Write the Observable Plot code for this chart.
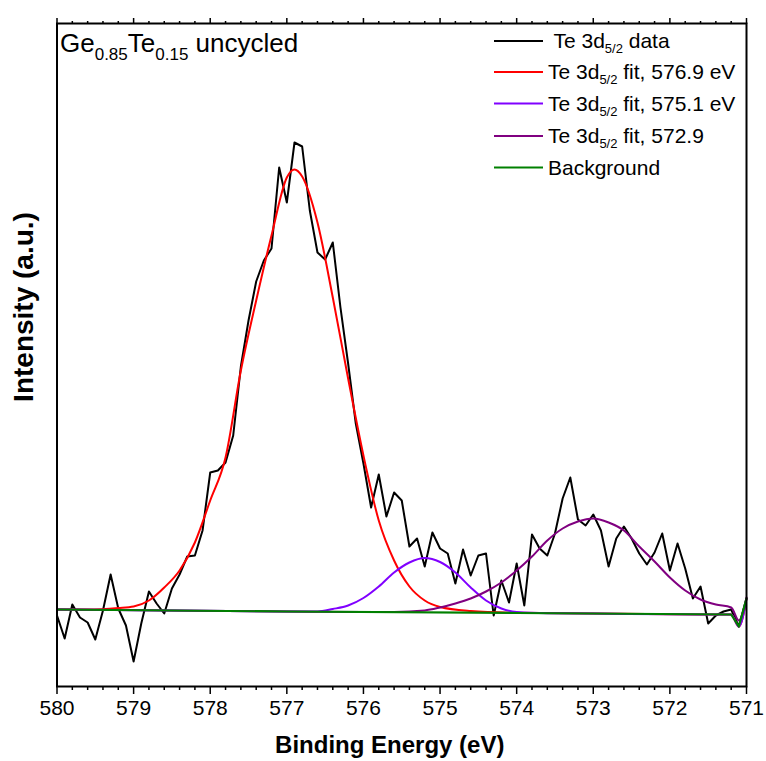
<!DOCTYPE html>
<html><head><meta charset="utf-8">
<script src="https://cdn.jsdelivr.net/npm/d3@7"></script>
<script src="https://cdn.jsdelivr.net/npm/@observablehq/plot@0.6"></script>
<style>body{margin:0;background:#fff}</style>
</head><body><div id="chart"></div>
<script>
// ---- data (binding energy in eV, intensity in arbitrary units) ----
const dataEnergy = [580.0,579.9,579.8,579.7,579.6,579.5,579.4,579.3,579.2,579.1,
  579.0,578.9,578.8,578.7,578.6,578.5,578.4,578.3,578.2,578.1,
  578.0,577.9,577.8,577.7,577.6,577.5,577.4,577.3,577.2,577.1,
  577.0,576.9,576.8,576.7,576.6,576.5,576.4,576.3,576.2,576.1,
  576.0,575.9,575.8,575.7,575.6,575.5,575.4,575.3,575.2,575.1,
  575.0,574.9,574.8,574.7,574.6,574.5,574.4,574.3,574.2,574.1,
  574.0,573.9,573.8,573.7,573.6,573.5,573.4,573.3,573.2,573.1,
  573.0,572.9,572.8,572.7,572.6,572.5,572.4,572.3,572.2,572.1,
  572.0,571.9,571.8,571.7,571.6,571.5,571.4,571.3,571.2,571.1,571.0];
const dataIntensity = [73,50,84,71,66,49,78,114,80,63,
  27,65,97,85,75,100,114,132,133,158,
  216,218,226,253,322,368,407,428,440,521,
  486,546,542,478,436,429,446,381,325,265,
  225,181,214,172,196,188,142,150,122,156,
  140,135,105,139,113,133,135,73,108,86,
  125,83,154,140,133,155,190,211,169,163,
  174,158,122,150,162,150,135,124,136,155,
  118,145,120,90,102,65,73,77,79,62,90];

const fit1Energy = [580.0,579.6,579.2,579.0,578.8,578.6,578.4,578.2,578.0,577.8,577.6,577.4,577.2,577.0,576.9,576.8,576.6,576.4,576.2,576.0,575.8,575.6,575.4,575.2,575.0,574.6,574.0,573.0,572.0,571.2,571.1,571.0];
const fit1Intensity = [79,79,80.5,82,88,101,118,146,188,231,318,388,453,511,519,512,466,391,310,233,168,128,102,88,81.5,77.5,75.7,75,74.2,74,62,90];

const fit2Energy = [580.0,577.0,576.6,576.4,576.2,576.0,575.8,575.6,575.4,575.2,575.0,574.8,574.6,574.4,574.2,574.0,573.6,573.0,572.0,571.2,571.1,571.0];
const fit2Intensity = [79,77,77,79.5,83,90.5,102,116,126,130.5,126.5,116,101,88,80,76.5,75.3,75,74.2,74,62,90];

const fit3Energy = [580.0,577.0,576.0,575.6,575.2,575.0,574.8,574.6,574.4,574.2,574.0,573.8,573.6,573.4,573.2,573.0,572.8,572.6,572.4,572.2,572.0,571.8,571.6,571.4,571.2,571.1,571.0];
const fit3Intensity = [79,77,76.5,76.5,78,81,85,90,97,106,118,132,148,160,167,170,166,158,142,127,111,98,89,84,81,68,91];

const bgEnergy = [580.0,577.0,574.0,571.2,571.1,571.0];
const bgIntensity = [79,77,75.5,74,62,90];

const majorTicks = [580,579,578,577,576,575,574,573,572,571];
const minorTicks = [579.8,579.6,579.4,579.2,578.8,578.6,578.4,578.2,577.8,577.6,577.4,577.2,576.8,576.6,576.4,576.2,575.8,575.6,575.4,575.2,574.8,574.6,574.4,574.2,573.8,573.6,573.4,573.2,572.8,572.6,572.4,572.2,571.8,571.6,571.4,571.2];

const seriesColors = ["#000000","#ff0000","#8000ff","#800080","#008000"];
const legendBefore = [" Te 3d","Te 3d","Te 3d","Te 3d","Background"];
const legendSub = ["5/2","5/2","5/2","5/2",""];
const legendAfter = [" data"," fit, 576.9 eV"," fit, 575.1 eV"," fit, 572.9",""];
const titleParts = [["Ge",false],["0.85",true],["Te",false],["0.15",true],[" uncycled",false]];
const xLabel = "Binding Energy (eV)";
const yLabel = "Intensity (a.u.)";

// ---- build ----
const rows = (E, I) => E.map((e, i) => ({e, v: I[i]}));
const data = rows(dataEnergy, dataIntensity);
const fit1 = rows(fit1Energy, fit1Intensity);
const fit2 = rows(fit2Energy, fit2Intensity);
const fit3 = rows(fit3Energy, fit3Intensity);
const bg = rows(bgEnergy, bgIntensity);

const FONT = "'Liberation Sans', Arial, sans-serif";

const chart = Plot.plot({
  width: 766, height: 761,
  marginLeft: 56.5, marginRight: 20, marginTop: 23, marginBottom: 75,
  style: {fontFamily: FONT, background: "white", color: "black", overflow: "visible"},
  x: {domain: [580, 571], label: null},
  y: {domain: [2, 665], axis: null, label: null},
  marks: [
    Plot.axisX({ticks: minorTicks, tickSize: 4, tickFormat: () => "", label: null, strokeWidth: 1.5}),
    Plot.axisX({ticks: majorTicks, tickSize: 8, tickPadding: 6, tickFormat: d => String(d), label: null, strokeWidth: 1.5, fontSize: 21}),
    Plot.axisX({anchor: "top", ticks: minorTicks, tickSize: 3, tickFormat: () => "", label: null, strokeWidth: 1.5}),
    Plot.axisX({anchor: "top", ticks: majorTicks, tickSize: 6, tickFormat: () => "", label: null, strokeWidth: 1.5}),
    Plot.line(data, {x: "e", y: "v", stroke: seriesColors[0], strokeWidth: 2}),
    Plot.line(fit1, {x: "e", y: "v", stroke: seriesColors[1], strokeWidth: 2, curve: "monotone-x"}),
    Plot.line(fit2, {x: "e", y: "v", stroke: seriesColors[2], strokeWidth: 2, curve: "monotone-x"}),
    Plot.line(fit3, {x: "e", y: "v", stroke: seriesColors[3], strokeWidth: 2, curve: "monotone-x"}),
    Plot.line(bg, {x: "e", y: "v", stroke: seriesColors[4], strokeWidth: 2.2}),
    Plot.frame({stroke: "black", strokeWidth: 2}),
    Plot.text([xLabel], {text: d => d, frameAnchor: "bottom", dx: -12, dy: 59, fontSize: 24, fontWeight: "bold", textAnchor: "middle", lineAnchor: "middle", fill: "black"}),
    Plot.text([yLabel], {text: d => d, frameAnchor: "left", dx: -33, dy: -48, rotate: -90, fontSize: 28, fontWeight: "bold", textAnchor: "middle", lineAnchor: "middle", fill: "black"})
  ]
});
document.getElementById("chart").appendChild(chart);

const svg = d3.select(chart);
// title
const t = svg.append("text").attr("x", 60).attr("y", 52).attr("font-size", 26)
  .attr("text-anchor", "start").attr("font-family", FONT).attr("fill", "black")
  .style("white-space", "pre");
let shifted = false;
titleParts.forEach(([s, sub]) => {
  const ts = t.append("tspan").text(s);
  if (sub && !shifted) { ts.attr("font-size", 17).attr("dy", 8); shifted = true; }
  else if (!sub && shifted) { ts.attr("dy", -8); shifted = false; }
  else if (sub) ts.attr("font-size", 17);
});
// legend
const rowY = [41, 72, 103.5, 136, 167.5];
seriesColors.forEach((c, i) => {
  svg.append("line").attr("x1", 494).attr("x2", 543).attr("y1", rowY[i]).attr("y2", rowY[i])
    .attr("stroke", c).attr("stroke-width", 2);
  const tx = svg.append("text").attr("x", 548).attr("y", rowY[i] + 7).attr("font-size", 21)
    .attr("text-anchor", "start").attr("font-family", FONT).attr("fill", "black")
    .style("white-space", "pre");
  tx.append("tspan").text(legendBefore[i]);
  if (legendSub[i]) {
    tx.append("tspan").attr("font-size", 13).attr("dy", 5).text(legendSub[i]);
    tx.append("tspan").attr("dy", -5).text(legendAfter[i]);
  } else if (legendAfter[i]) {
    tx.append("tspan").text(legendAfter[i]);
  }
});
</script>
</body></html>
